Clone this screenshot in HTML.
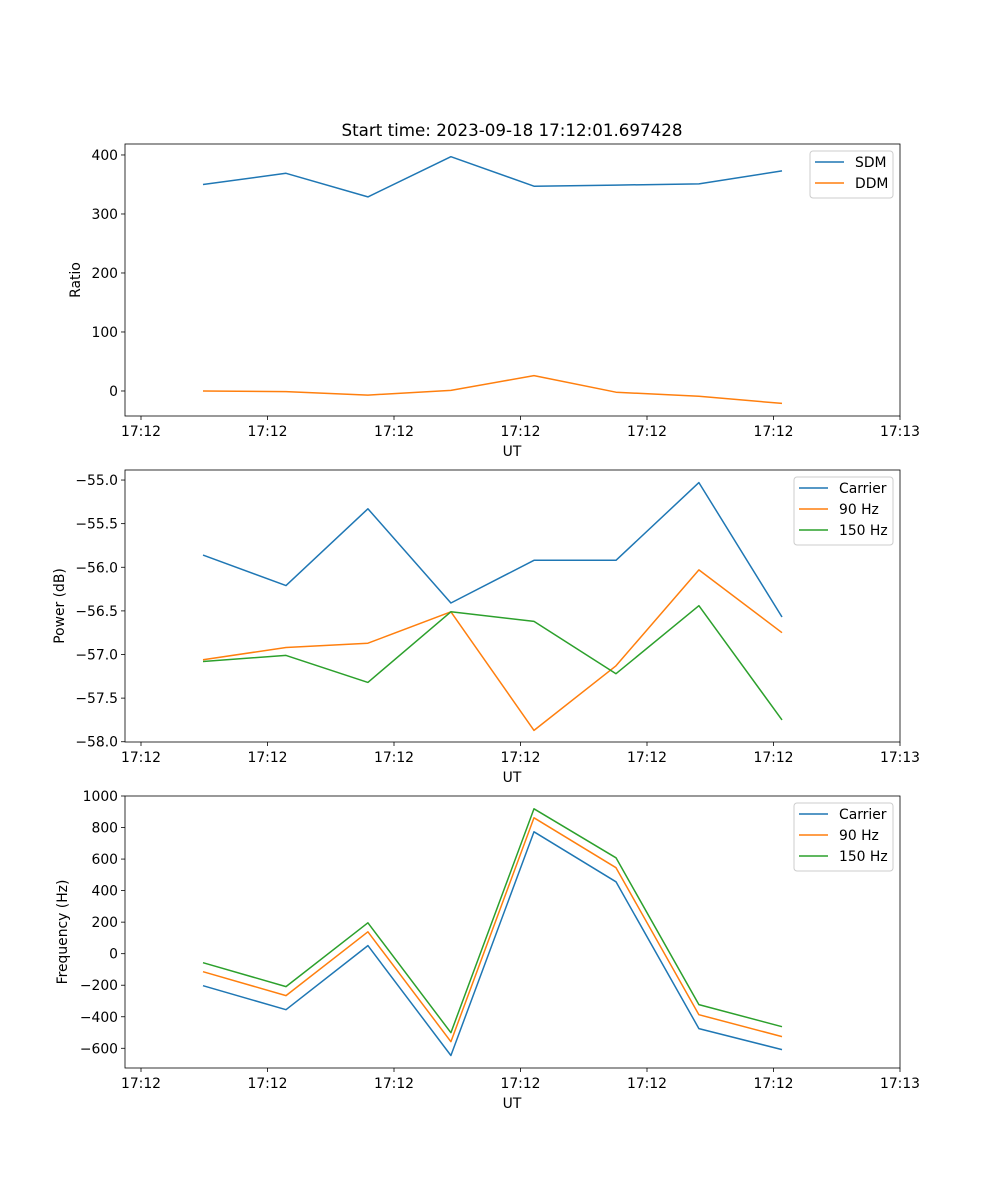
<!DOCTYPE html>
<html><head><meta charset="utf-8"><style>
html,body{margin:0;padding:0;background:#fff;}
svg{display:block;font-family:"DejaVu Sans","Liberation Sans",sans-serif;}
</style></head><body>
<svg id="fig" width="1000" height="1200" viewBox="0 0 1000 1200">
<text x="512" y="136" font-size="16.7" text-anchor="middle">Start time: 2023-09-18 17:12:01.697428</text>
</svg>
<script>
const xSeconds = [4.9, 11.46, 17.94, 24.5, 31.07, 37.55, 44.1, 50.67];
const xTickValues = [0, 10, 20, 30, 40, 50, 60];
const xTickLabels = ["17:12","17:12","17:12","17:12","17:12","17:12","17:13"];
const sdm = [350, 369, 329, 397, 347, 349, 351, 373];
const ddm = [0, -1, -7, 1, 26, -2, -9, -21];
const powCarrier = [-55.86, -56.21, -55.33, -56.41, -55.92, -55.92, -55.03, -56.57];
const pow90 = [-57.06, -56.92, -56.87, -56.51, -57.87, -57.13, -56.03, -56.75];
const pow150 = [-57.08, -57.01, -57.32, -56.51, -56.62, -57.22, -56.44, -57.75];
const freqCarrier = [-203, -355, 51, -646, 773, 456, -475, -608];
const freq90 = [-114, -266, 139, -558, 862, 545, -387, -526];
const freq150 = [-57, -209, 196, -501, 919, 608, -323, -463];
const ratioTicks = [0, 100, 200, 300, 400];
const powTicks = [-58, -57.5, -57, -56.5, -56, -55.5, -55];
const freqTicks = [-600, -400, -200, 0, 200, 400, 600, 800, 1000];

const NS = "http://www.w3.org/2000/svg";
const svg = document.getElementById("fig");
const C = {blue:"#1f77b4", orange:"#ff7f0e", green:"#2ca02c"};
const FS = "13.9";
function mk(tag, attrs, parent){const e=document.createElementNS(NS,tag);for(const k in attrs)e.setAttribute(k,attrs[k]);(parent||svg).appendChild(e);return e;}
const L=125,R=900;
const xs = v => 141 + (v/10)*126.5;

function panel(id, top, bottom, ymin, ymax, ticks, fmt, ylabel, series, legend){
  const g = mk("g",{});
  
  
  const ys = v => bottom - (v - ymin)/(ymax - ymin)*(bottom-top);
  xTickValues.forEach((t,i)=>{
    const x=xs(t);
    mk("line",{x1:x,x2:x,y1:bottom,y2:bottom+4,stroke:"#000","stroke-width":0.8},g);
    const tx=mk("text",{x:x,y:bottom+20,"font-size":FS,"text-anchor":"middle"},g);
    
    
    tx.textContent=xTickLabels[i];
  });
  const xl=mk("text",{x:512,y:bottom+40,"font-size":FS,"text-anchor":"middle"},g);
  
  
  xl.textContent="UT";
  ticks.forEach(t=>{
    const y=ys(t);
    mk("line",{x1:L-4,x2:L,y1:y,y2:y,stroke:"#000","stroke-width":0.8},g);
    const tx=mk("text",{x:L-7,y:y+5,"font-size":FS,"text-anchor":"end"},g);
    
    
    tx.textContent=fmt(t);
  });
  const cy=(top+bottom)/2;
  const yl=mk("text",{x:0,y:0,"font-size":FS,"text-anchor":"middle",transform:`translate(${ylabel.x},${cy}) rotate(-90)`},g);
  
  
  yl.textContent=ylabel.t;
  series.forEach(s=>{
    const pts=s.v.map((v,i)=>xs(xSeconds[i]).toFixed(1)+","+ys(v).toFixed(1)).join(" ");
    const pl=mk("polyline",{points:pts,fill:"none",stroke:s.c,"stroke-width":1.5,"stroke-linejoin":"round"},g);
    
    
  });
  const fr=mk("rect",{x:L,y:top,width:R-L,height:bottom-top,fill:"none",stroke:"#000","stroke-width":0.8},g);
  
  
  const lg=mk("g",{},g);
  
  
  mk("rect",{x:legend.x,y:top+7,width:893-legend.x,height:series.length*21+5,rx:3,fill:"#fff",stroke:"#ccc","stroke-width":1},lg);
  series.forEach((s,i)=>{
    const y=top+18+i*21;
    mk("line",{x1:legend.x+5,x2:legend.x+34,y1:y,y2:y,stroke:s.c,"stroke-width":1.5},lg);
    const t=mk("text",{x:legend.x+45,y:y+5,"font-size":FS},lg);
    
    
    t.textContent=s.label;
  });
}
const minus = s => String(s).replace("-","\u2212");
panel("ratio",144,416,-42.4,418.6,ratioTicks,t=>minus(t),{x:80,t:"Ratio"},
  [{v:sdm,c:C.blue,n:"sdm",label:"SDM"},{v:ddm,c:C.orange,n:"ddm",label:"DDM"}],{x:810});
panel("power",470,742,-58.003,-54.885,powTicks,t=>minus(t.toFixed(1)),{x:64,t:"Power (dB)"},
  [{v:powCarrier,c:C.blue,n:"power-carrier",label:"Carrier"},{v:pow90,c:C.orange,n:"power-90hz",label:"90 Hz"},{v:pow150,c:C.green,n:"power-150hz",label:"150 Hz"}],{x:794});
panel("frequency",796,1068,-725,1000,freqTicks,t=>minus(t),{x:67,t:"Frequency (Hz)"},
  [{v:freqCarrier,c:C.blue,n:"freq-carrier",label:"Carrier"},{v:freq90,c:C.orange,n:"freq-90hz",label:"90 Hz"},{v:freq150,c:C.green,n:"freq-150hz",label:"150 Hz"}],{x:794});
</script>
</body></html>
